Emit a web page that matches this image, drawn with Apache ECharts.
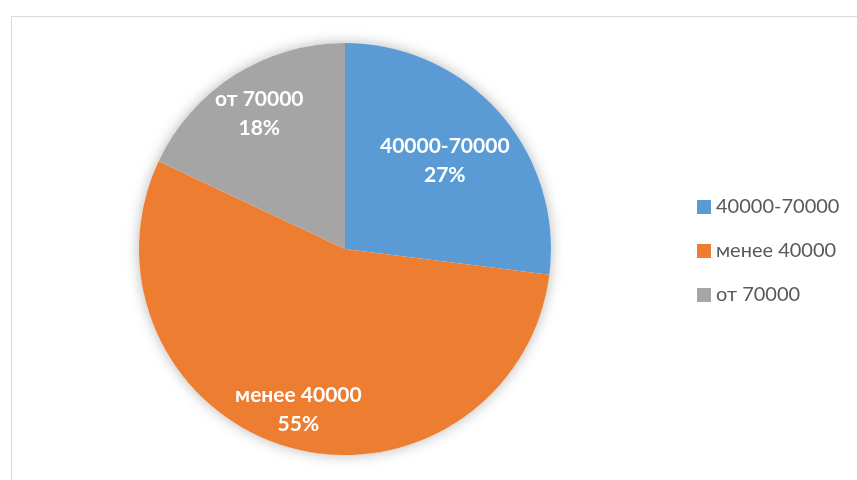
<!DOCTYPE html>
<html><head><meta charset="utf-8">
<script src="https://cdn.jsdelivr.net/npm/echarts@6/dist/echarts.min.js"></script>
<style>html,body{margin:0;padding:0;background:#fff}#c{width:857px;height:480px}</style>
</head><body><div id="c"></div>
<script>
var categories = ['40000-70000', 'менее 40000', 'от 70000'];
var values = [27, 55, 18];
var colors = ['#5b9bd5', '#ed7d31', '#a5a5a5'];
var labelDist = [130, 164, 157];

var chart = echarts.init(document.getElementById('c'));
var data = categories.map(function (n, i) { return { name: n, value: values[i], itemStyle: { color: colors[i] } }; });
var center = [345, 249];
var R = 206;

var series = [
  {
    type: 'pie', silent: true, z: 1, center: center, radius: [0, R],
    data: [{ name: '_bg', value: 1, itemStyle: { color: '#ffffff', shadowBlur: 14, shadowColor: 'rgba(0,0,0,0.28)' } }],
    label: { show: false }, labelLine: { show: false }, animation: false
  },
  {
    type: 'pie', z: 2, center: center, radius: [0, R], startAngle: 90, clockwise: true,
    data: data, label: { show: false }, labelLine: { show: false }, animation: false,
    itemStyle: { borderWidth: 0 }
  }
];
categories.forEach(function (n, k) {
  series.push({
    type: 'pie', silent: true, z: 3, center: center, radius: [0, labelDist[k] * 2], startAngle: 90, clockwise: true,
    animation: false,
    data: categories.map(function (m, i) {
      return { name: m, value: values[i], itemStyle: { color: 'rgba(0,0,0,0)' },
        label: { show: i === k } };
    }),
    label: { position: 'inside', formatter: '{b}\n{d}%', color: '#ffffff', fontFamily: 'Lato', fontWeight: 'bold', fontSize: 21, lineHeight: 29 },
    labelLine: { show: false }
  });
});

chart.setOption({
  backgroundColor: '#ffffff',
  animation: false,
  graphic: [{ type: 'rect', left: 9, top: 14, silent: true, shape: { width: 900, height: 520 }, style: { fill: 'none', stroke: '#d9d9d9', lineWidth: 1 }, z: 0 }],
  legend: {
    orient: 'vertical', left: 692, top: 190, data: categories,
    icon: 'rect', itemWidth: 14, itemHeight: 14, itemGap: 20,
    textStyle: { color: '#595959', fontFamily: 'Lato', fontSize: 20, lineHeight: 24 }
  },
  series: series
});
</script></body></html>
